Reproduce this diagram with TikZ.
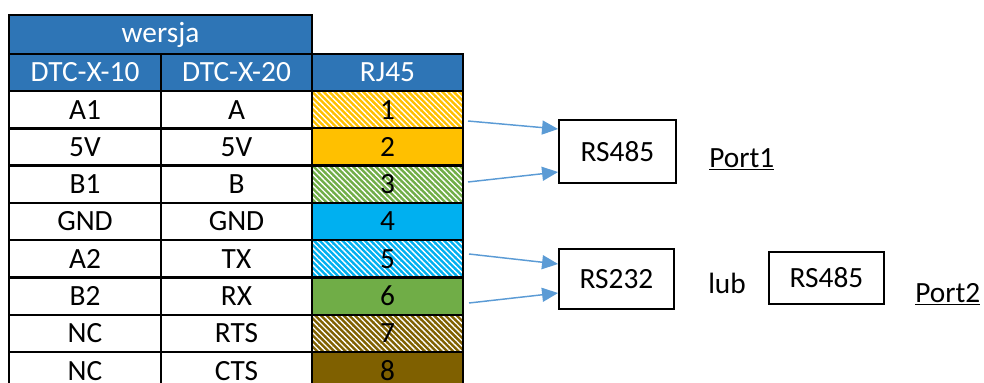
\documentclass[tikz,border=0pt]{standalone}
\usepackage{fontspec}
\setmainfont{Carlito}
\usetikzlibrary{patterns.meta,arrows.meta,calc}
\definecolor{hdr}{HTML}{2E75B6}
\definecolor{cyel}{HTML}{FFC000}
\definecolor{cgrn}{HTML}{70AD47}
\definecolor{cblu}{HTML}{00B0F0}
\definecolor{cbrn}{HTML}{7F6000}
\definecolor{arrowblue}{HTML}{5B9BD5}
\begin{document}
\begin{tikzpicture}[x=0.75pt,y=-0.75pt,
  font=\fontsize{22}{26}\selectfont,
  cell/.style={draw=black,line width=1.8pt,inner sep=0pt,minimum height=28pt},
  hcell/.style={cell,fill=hdr,text=white},
  stripe/.style={preaction={fill=#1},pattern={Lines[angle=-45,distance=3pt,line width=1pt]},pattern color=white},
  solid cell/.style={fill=#1},
  box/.style={draw=black,line width=1.4pt,inner sep=0pt},
  arr/.style={draw=arrowblue,line width=1.1pt,-{Triangle[length=12pt,width=10.5pt]}}]
\useasboundingbox (0,0) rectangle (984,382);
\clip (0,0) rectangle (984,382);
% header
\node[hcell,minimum width=227.25pt,minimum height=29.25pt] (wersja) at (160.5,34.5) {wersja};
\node[hcell,minimum width=114pt,minimum height=27.75pt] (h1) at (85,72.5) {DTC-X-10};
\node[hcell,minimum width=113.25pt,minimum height=27.75pt] (h2) at (236.5,72.5) {DTC-X-20};
\node[hcell,minimum width=113.25pt,minimum height=27.75pt] (h3) at (387.5,72.5) {RJ45};
% data rows
\foreach \t/\u [count=\i] in {A1/A,5V/5V,B1/B,GND/GND,A2/TX,B2/RX,NC/RTS,NC/CTS} {
  \node[cell,minimum width=114pt] (a\i) at (85,{91+37.3*(\i-0.5)}) {\t};
  \node[cell,minimum width=113.25pt] (b\i) at (236.5,{91+37.3*(\i-0.5)}) {\u};
}
\node[cell,minimum width=113.25pt,stripe=cyel] (p1) at (387.5,{91+37.3*0.5}) {1};
\node[cell,minimum width=113.25pt,solid cell=cyel] (p2) at (387.5,{91+37.3*1.5}) {2};
\node[cell,minimum width=113.25pt,stripe=cgrn] (p3) at (387.5,{91+37.3*2.5}) {3};
\node[cell,minimum width=113.25pt,solid cell=cblu] (p4) at (387.5,{91+37.3*3.5}) {4};
\node[cell,minimum width=113.25pt,stripe=cblu] (p5) at (387.5,{91+37.3*4.5}) {5};
\node[cell,minimum width=113.25pt,solid cell=cgrn] (p6) at (387.5,{91+37.3*5.5}) {6};
\node[cell,minimum width=113.25pt,stripe=cbrn] (p7) at (387.5,{91+37.3*6.5}) {7};
\node[cell,minimum width=113.25pt,solid cell=cbrn] (p8) at (387.5,{91+37.3*7.5}) {8};
% boxes
\node[box,minimum width=87.75pt,minimum height=47.25pt] (rs1) at (617.5,151.5) {RS485};
\node[box,minimum width=86.25pt,minimum height=45pt] (rs2) at (616.5,279) {RS232};
\node[box,minimum width=86.25pt,minimum height=39pt] (rs3) at (826.5,278) {RS485};
\node[anchor=base west,inner sep=0pt] (lub) at (708,293) {lub};
\node[anchor=base west,inner sep=0pt] (port1) at (709,167) {\underline{Port1}};
\node[anchor=base west,inner sep=0pt] (port2) at (915,302) {\underline{Port2}};
% arrows
\coordinate (s1) at (468,121);
\coordinate (s3) at (468,182);
\coordinate (s5) at (469,254);
\coordinate (s6) at (469,303);
\draw[arr] (s1) -- ($(rs1.west)+(0,-22.5)$);
\draw[arr] (s3) -- ($(rs1.west)+(0,20.5)$);
\draw[arr] (s5) -- ($(rs2.west)+(0,-15)$);
\draw[arr] (s6) -- ($(rs2.west)+(0,14)$);
\end{tikzpicture}
\end{document}
